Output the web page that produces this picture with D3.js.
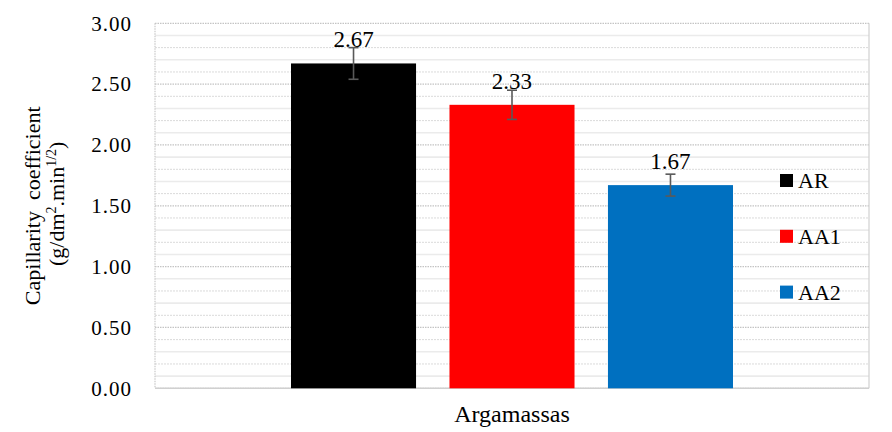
<!DOCTYPE html>
<html>
<head>
<meta charset="utf-8">
<script src="https://cdn.jsdelivr.net/npm/d3@7"></script>
<style>
  body { margin: 0; background: #fff; }
</style>
</head>
<body>
<svg id="chart" width="892" height="432"></svg>
<script>
var WIDTH = 892;
var HEIGHT = 432;
var FONT = "'Liberation Serif', 'DejaVu Serif', serif";

// Data
var categories = ['Argamassas'];
var seriesNames = ['AR', 'AA1', 'AA2'];
var seriesValues = [2.67, 2.33, 1.67];
var seriesErrors = [0.13, 0.12, 0.09];
var seriesColors = ['#000000', '#ff0000', '#0070c0'];
var yTicks = [0, 0.5, 1, 1.5, 2, 2.5, 3];
var yMinorTicks = d3.range(1, 30).map(function(i) { return i / 10; });

// Plot area
var PLOT_LEFT = 155;
var PLOT_RIGHT = 869;
var PLOT_TOP = 23.3;
var PLOT_BOTTOM = 388.3;

var svg = d3.select('#chart')
    .attr('font-family', FONT);

var y = d3.scaleLinear()
    .domain([0, 3])
    .range([PLOT_BOTTOM, PLOT_TOP]);

var x0 = d3.scaleBand()
    .domain(categories)
    .range([PLOT_LEFT, PLOT_RIGHT])
    .paddingInner(0)
    .paddingOuter(0.3077);

var x1 = d3.scaleBand()
    .domain(seriesNames)
    .range([0, x0.bandwidth()])
    .paddingInner(0.211)
    .paddingOuter(0);

// Minor gridlines, alternating solid / dotted
svg.append('g')
  .selectAll('line')
  .data(yMinorTicks.filter(function(v) { return Math.round(v * 10) % 5 !== 0; }))
  .enter()
  .append('line')
    .attr('x1', PLOT_LEFT)
    .attr('x2', PLOT_RIGHT)
    .attr('y1', function(d) { return y(d); })
    .attr('y2', function(d) { return y(d); })
    .attr('stroke', function(d) { return Math.round(d * 10) % 2 ? '#ebebeb' : '#dadada'; })
    .attr('stroke-width', function(d) { return Math.round(d * 10) % 2 ? 1.6 : 1; })
    .attr('stroke-dasharray', function(d) { return Math.round(d * 10) % 2 ? null : '2,1'; });

// Major gridlines
svg.append('g')
  .selectAll('line')
  .data(yTicks)
  .enter()
  .append('line')
    .attr('x1', PLOT_LEFT)
    .attr('x2', PLOT_RIGHT)
    .attr('y1', function(d) { return y(d); })
    .attr('y2', function(d) { return y(d); })
    .attr('stroke', '#c4c4c4')
    .attr('stroke-width', 1.2)
    .attr('stroke-dasharray', '1.5,1');

// Plot border (left dotted, right solid)
svg.append('line')
    .attr('x1', PLOT_LEFT).attr('x2', PLOT_LEFT)
    .attr('y1', PLOT_TOP).attr('y2', PLOT_BOTTOM)
    .attr('stroke', '#c8c8c8')
    .attr('stroke-width', 1.2)
    .attr('stroke-dasharray', '1.5,1');
svg.append('line')
    .attr('x1', PLOT_RIGHT).attr('x2', PLOT_RIGHT)
    .attr('y1', PLOT_TOP).attr('y2', PLOT_BOTTOM)
    .attr('stroke', '#d0d0d0')
    .attr('stroke-width', 1.2);
svg.append('line')
    .attr('x1', PLOT_LEFT).attr('x2', PLOT_RIGHT)
    .attr('y1', PLOT_BOTTOM).attr('y2', PLOT_BOTTOM)
    .attr('stroke', '#d0d0d0')
    .attr('stroke-width', 1.4);

// Y axis tick labels
var yAxis = d3.axisLeft(y)
    .tickValues(yTicks)
    .tickFormat(d3.format('.2f'))
    .tickSize(0)
    .tickPadding(23);

var yAxisG = svg.append('g')
    .attr('transform', 'translate(' + PLOT_LEFT + ',0)')
    .call(yAxis)
    .attr('font-family', FONT)
    .attr('font-size', 21);
yAxisG.select('.domain').remove();
yAxisG.selectAll('text')
    .attr('letter-spacing', 1)
    .attr('fill', '#000');

// Bars
var group = svg.append('g')
  .selectAll('g')
  .data(categories)
  .enter()
  .append('g')
    .attr('transform', function(d) { return 'translate(' + x0(d) + ',0)'; });

var barData = seriesNames.map(function(name, i) {
  return { name: name, value: seriesValues[i], error: seriesErrors[i], color: seriesColors[i] };
});

group.selectAll('rect')
  .data(barData)
  .enter()
  .append('rect')
    .attr('x', function(d) { return x1(d.name); })
    .attr('y', function(d) { return y(d.value); })
    .attr('width', x1.bandwidth())
    .attr('height', function(d) { return y(0) - y(d.value); })
    .attr('fill', function(d) { return d.color; });

// Data labels
group.selectAll('text.label')
  .data(barData)
  .enter()
  .append('text')
    .attr('class', 'label')
    .attr('x', function(d) { return x1(d.name) + x1.bandwidth() / 2; })
    .attr('y', function(d) { return y(d.value) - 16; })
    .attr('text-anchor', 'middle')
    .attr('font-size', 23)
    .text(function(d) { return d3.format('.2f')(d.value); });

// Error bars
var errG = group.selectAll('g.err')
  .data(barData)
  .enter()
  .append('g')
    .attr('class', 'err')
    .attr('stroke', '#595959')
    .attr('stroke-width', 1.6);

errG.append('line')
    .attr('x1', function(d) { return x1(d.name) + x1.bandwidth() / 2; })
    .attr('x2', function(d) { return x1(d.name) + x1.bandwidth() / 2; })
    .attr('y1', function(d) { return y(d.value + d.error); })
    .attr('y2', function(d) { return y(d.value - d.error); });

errG.selectAll('line.cap')
  .data(function(d) { return [d.value + d.error, d.value - d.error].map(function(v) { return { name: d.name, v: v }; }); })
  .enter()
  .append('line')
    .attr('class', 'cap')
    .attr('x1', function(d) { return x1(d.name) + x1.bandwidth() / 2 - 5; })
    .attr('x2', function(d) { return x1(d.name) + x1.bandwidth() / 2 + 5; })
    .attr('y1', function(d) { return y(d.v); })
    .attr('y2', function(d) { return y(d.v); });

// X category label
svg.append('text')
    .attr('x', x0(categories[0]) + x0.bandwidth() / 2)
    .attr('y', 422)
    .attr('text-anchor', 'middle')
    .attr('font-size', 24)
    .text(categories[0]);

// Y axis title (two lines, rotated)
var midY = (PLOT_TOP + PLOT_BOTTOM) / 2;
svg.append('text')
    .attr('transform', 'translate(40,' + midY + ') rotate(-90)')
    .attr('text-anchor', 'middle')
    .attr('font-size', 22)
    .attr('xml:space', 'preserve')
    .text('Capillarity  coefficient');

var line2 = svg.append('text')
    .attr('transform', 'translate(64,' + (midY - 2) + ') rotate(-90)')
    .attr('text-anchor', 'middle')
    .attr('font-size', 22);
line2.append('tspan').text('(g/dm');
line2.append('tspan').attr('dy', -8).attr('font-size', 14).text('2');
line2.append('tspan').attr('dy', 8).text('.min');
line2.append('tspan').attr('dy', -8).attr('font-size', 14).text('1/2');
line2.append('tspan').attr('dy', 8).text(')');

// Legend
var legend = svg.append('g')
  .selectAll('g')
  .data(barData)
  .enter()
  .append('g')
    .attr('transform', function(d, i) { return 'translate(780,' + (180.5 + i * 55.8) + ')'; });

legend.append('rect')
    .attr('x', 0)
    .attr('y', -6.5)
    .attr('width', 13)
    .attr('height', 13)
    .attr('fill', function(d) { return d.color; });

legend.append('text')
    .attr('x', 18)
    .attr('y', 0)
    .attr('dy', '0.35em')
    .attr('font-size', 22)
    .text(function(d) { return d.name; });
</script>
</body>
</html>
